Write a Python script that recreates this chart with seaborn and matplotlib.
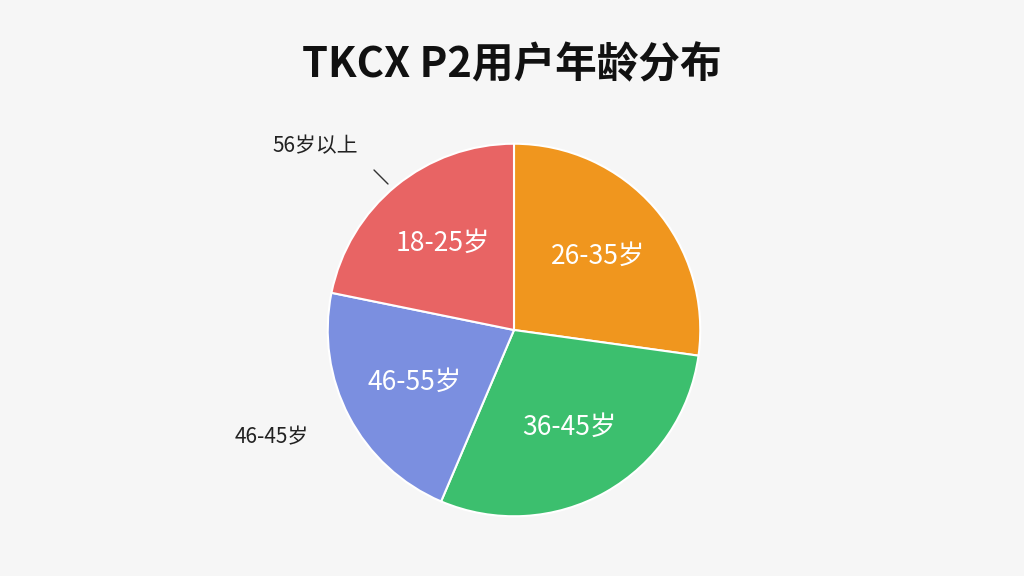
import matplotlib
matplotlib.use("Agg")
import matplotlib.pyplot as plt
import seaborn as sns

sns.set_theme(style="white")
plt.rcParams['font.family'] = ['Noto Sans CJK SC', 'DejaVu Sans']

labels = ["26-35岁", "36-45岁", "46-55岁", "18-25岁"]
values = [27.2, 29.2, 21.8, 21.8]
colors = ["#f0961e", "#3cbf6e", "#7b8fe0", "#e86464"]

fig = plt.figure(figsize=(10.24, 5.76), dpi=100, facecolor="#f6f6f6")
ax = fig.add_axes([0, 0, 1, 1], facecolor="#f6f6f6")
ax.set_xlim(0, 1024); ax.set_ylim(576, 0)
ax.axis("off")

pax = fig.add_axes([(514-200)/1024, (576-330-190)/576, 400/1024, 380/576])
wedges, texts = pax.pie(values, colors=colors, startangle=90, counterclock=False,
                        labels=labels, labeldistance=0.6,
                        wedgeprops=dict(edgecolor="white", linewidth=1.5),
                        textprops=dict(color="white", fontsize=19, ha="center", va="center"))
for t in texts:
    t.set_ha("center"); t.set_va("center")
pax.set_xlim(-1.02, 1.02); pax.set_ylim(-1.02, 1.02)
pax.set_aspect("equal")

fig.text(0.5, 1 - 65/576, "TKCX P2用户年龄分布", ha="center", va="center",
         fontsize=30, fontweight="bold", color="#111111")
ax.text(272, 146, "56岁以上", fontsize=15, color="#222222", va="center")
ax.plot([374, 388], [170, 184], color="#333333", lw=1)
ax.text(235, 437, "46-45岁", fontsize=15, color="#222222", va="center")

fig.savefig("out.png", dpi=100, facecolor=fig.get_facecolor())
